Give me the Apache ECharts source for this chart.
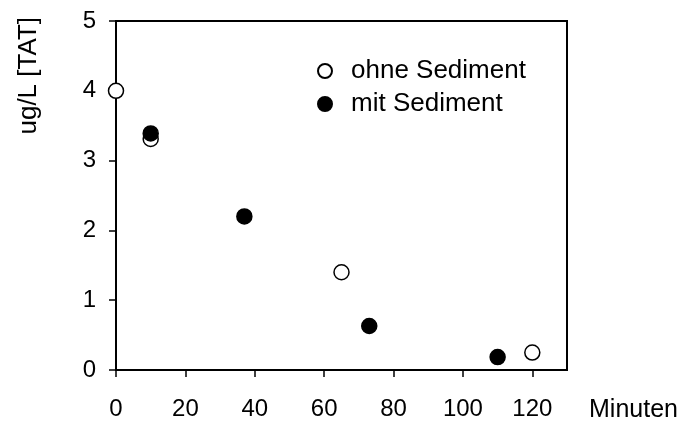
<!DOCTYPE html>
<html>
<head>
<meta charset="utf-8">
<script src="https://cdn.jsdelivr.net/npm/echarts@6/dist/echarts.min.js"></script>
<style>html,body{margin:0;padding:0;background:#fff}#c{width:682px;height:421px}</style>
</head>
<body>
<div id="c"></div>
<script>
const seriesNames = ['ohne Sediment', 'mit Sediment'];
const ohneX = [0, 10, 65, 120];
const ohneY = [4.0, 3.31, 1.4, 0.25];
const mitX = [10, 37, 73, 110];
const mitY = [3.39, 2.2, 0.63, 0.185];
const xTicks = [0, 20, 40, 60, 80, 100, 120];
const yTicks = [0, 1, 2, 3, 4, 5];
const xName = 'Minuten';
const yName = 'ug/L [TAT]';

const FONT = '"Liberation Sans", Arial, sans-serif';
const chart = echarts.init(document.getElementById('c'), null, {renderer: 'canvas'});
const pair = (xs, ys) => xs.map((x, i) => [x, ys[i]]);

chart.setOption({
  animation: false,
  backgroundColor: '#fff',
  grid: {left: 116, top: 21, right: 115, bottom: 48, show: true, borderColor: '#000', borderWidth: 2, backgroundColor: 'transparent'},
  xAxis: {
    type: 'value', min: 0, max: 130, interval: 20,
    splitLine: {show: false},
    axisLine: {lineStyle: {color: '#000', width: 2}},
    axisTick: {length: 7, lineStyle: {color: '#000', width: 1.5}, customValues: xTicks},
    axisLabel: {color: '#000', fontSize: 24, fontFamily: FONT, margin: 27, customValues: xTicks}
  },
  yAxis: {
    type: 'value', min: 0, max: 5, interval: 1,
    splitLine: {show: false},
    axisLine: {lineStyle: {color: '#000', width: 2}},
    axisTick: {length: 7, lineStyle: {color: '#000', width: 1.5}, customValues: yTicks},
    axisLabel: {color: '#000', fontSize: 24, fontFamily: FONT, margin: 20, customValues: yTicks}
  },
  legend: {
    orient: 'vertical', left: 312, top: 53, itemWidth: 14, itemHeight: 14, itemGap: 7,
    textStyle: {color: '#000', fontSize: 26, fontFamily: FONT, padding: [0, 0, 0, 14]},
    data: seriesNames
  },
  graphic: [{
    type: 'text', left: 16, top: 17, rotation: Math.PI / 2,
    style: {text: yName, fill: '#000', font: '26px ' + FONT}
  }, {
    type: 'text', left: 589, top: 398,
    style: {text: xName, fill: '#000', font: '25px ' + FONT}
  }],
  series: [
    {name: seriesNames[0], type: 'scatter', data: pair(ohneX, ohneY), symbol: 'circle', symbolSize: 15,
     itemStyle: {color: '#fff', borderColor: '#000', borderWidth: 1.5, opacity: 1}},
    {name: seriesNames[1], type: 'scatter', data: pair(mitX, mitY), symbol: 'circle', symbolSize: 15,
     itemStyle: {color: '#000', borderColor: '#000', borderWidth: 1.5, opacity: 1}}
  ]
});
</script>
</body>
</html>
